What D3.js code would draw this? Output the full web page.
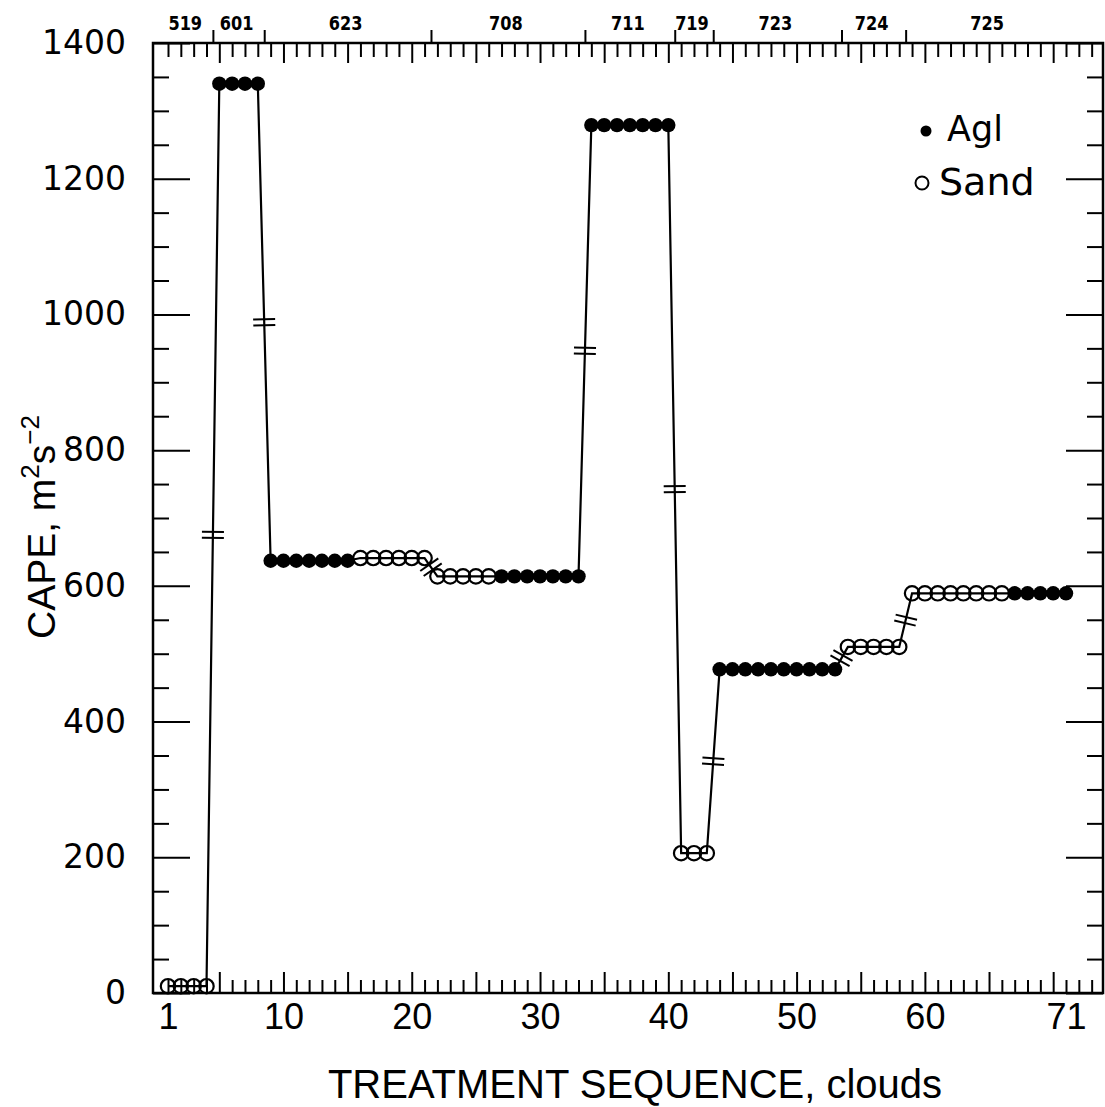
<!DOCTYPE html>
<html>
<head>
<meta charset="utf-8">
<script src="https://cdn.jsdelivr.net/npm/d3@7"></script>
<style>
  html, body { margin: 0; padding: 0; background: #fff; }
  svg { display: block; }
</style>
</head>
<body>
<svg id="chart" width="1105" height="1107"></svg>
<script>
// Treatment runs: consecutive clouds from the same day with the same seeding agent
const runDay    = ["519", "601", "623", "623", "708", "708", "711", "719", "723", "724", "725", "725"];
const runAgent  = ["Sand", "Agl", "Agl", "Sand", "Sand", "Agl", "Agl", "Sand", "Agl", "Sand", "Sand", "Agl"];
const runCape   = [10, 1340, 637, 641, 614, 614, 1279, 206, 477, 510, 589, 589];
const runCount  = [4, 4, 7, 6, 5, 7, 7, 3, 10, 5, 8, 5];

// Axis ticks and labels
const xTickLabels = [1, 10, 20, 30, 40, 50, 60, 71];
const yTickLabels = [0, 200, 400, 600, 800, 1000, 1200, 1400];
const legendNames = ["Agl", "Sand"];

// Expand runs into one record per cloud
const clouds = [];
runCape.forEach((v, i) => {
  for (let j = 0; j < runCount[i]; j++) {
    clouds.push({ seq: clouds.length + 1, day: runDay[i], agent: runAgent[i], cape: v });
  }
});

// Day groups (first / last cloud of each day)
const days = [];
clouds.forEach(c => {
  const last = days[days.length - 1];
  if (!last || last.day !== c.day) days.push({ day: c.day, first: c.seq, last: c.seq });
  else last.last = c.seq;
});

const svg = d3.select("#chart");
const L = 153, R = 1103, T = 43, B = 993;

const x = d3.scaleLinear().domain([1, 71]).range([168, 1066]);
const y = d3.scaleLinear().domain([0, 1400]).range([B, T]);

const ink = "#000";
const sans = "'DejaVu Sans', sans-serif";
const helv = "'Liberation Sans', Arial, sans-serif";

svg.append("rect").attr("width", 1105).attr("height", 1107).attr("fill", "#fff");

const seqTicks = d3.range(1, 74);
const minorY = d3.range(0, 1401, 50).filter(v => v % 200 !== 0);
const majorY = d3.range(0, 1401, 200);

function styleAxis(g) {
  g.select(".domain").remove();
  g.selectAll(".tick line").attr("stroke", ink).attr("stroke-width", 2);
}

// Bottom: inward ticks (every cloud, longer every 5)
svg.append("g").attr("transform", `translate(0,${B})`)
  .call(d3.axisTop(x).tickValues(seqTicks.filter(v => v % 5 !== 0)).tickSize(13).tickFormat(""))
  .call(styleAxis);
svg.append("g").attr("transform", `translate(0,${B})`)
  .call(d3.axisTop(x).tickValues(seqTicks.filter(v => v % 5 === 0)).tickSize(21).tickFormat(""))
  .call(styleAxis);
// Bottom labels
svg.append("g").attr("transform", `translate(0,${B})`)
  .call(d3.axisBottom(x).tickValues(xTickLabels).tickSize(0).tickPadding(9).tickFormat(d3.format("d")))
  .call(g => g.select(".domain").remove())
  .call(g => g.selectAll("text").attr("font-family", helv).attr("font-size", 36).attr("fill", ink)
    .attr("dy", "0.74em"));

// Top: inward ticks
svg.append("g").attr("transform", `translate(0,${T})`)
  .call(d3.axisBottom(x).tickValues(seqTicks.filter(v => v % 5 !== 0)).tickSize(14).tickFormat(""))
  .call(styleAxis);
svg.append("g").attr("transform", `translate(0,${T})`)
  .call(d3.axisBottom(x).tickValues(seqTicks.filter(v => v % 5 === 0)).tickSize(20).tickFormat(""))
  .call(styleAxis);
// Top: outward ticks at day boundaries
const dayBounds = days.slice(1).map(d => d.first - 0.5);
svg.append("g").attr("transform", `translate(0,${T})`)
  .call(d3.axisTop(x).tickValues(dayBounds).tickSize(13).tickFormat(""))
  .call(styleAxis);
// Day labels
svg.append("g").selectAll("text").data(days).join("text")
  .attr("transform", d => `translate(${x((d.first + d.last) / 2) - 2},30) scale(0.85,1)`)
  .attr("text-anchor", "middle")
  .attr("font-family", sans).attr("font-weight", "bold").attr("font-size", 19)
  .attr("fill", ink)
  .text(d => d.day);

// Left: inward ticks
svg.append("g").attr("transform", `translate(${L},0)`)
  .call(d3.axisRight(y).tickValues(minorY).tickSize(16).tickFormat(""))
  .call(styleAxis);
svg.append("g").attr("transform", `translate(${L},0)`)
  .call(d3.axisRight(y).tickValues(majorY).tickSize(37).tickFormat(""))
  .call(styleAxis);
// Left labels
svg.append("g").attr("transform", `translate(${L},0)`)
  .call(d3.axisLeft(y).tickValues(yTickLabels).tickSize(0).tickPadding(27).tickFormat(d3.format("d")))
  .call(g => g.select(".domain").remove())
  .call(g => g.selectAll("text").attr("font-family", sans).attr("font-size", 33).attr("fill", ink));

// Right: inward ticks
svg.append("g").attr("transform", `translate(${R},0)`)
  .call(d3.axisLeft(y).tickValues(minorY).tickSize(16).tickFormat(""))
  .call(styleAxis);
svg.append("g").attr("transform", `translate(${R},0)`)
  .call(d3.axisLeft(y).tickValues(majorY).tickSize(37).tickFormat(""))
  .call(styleAxis);

// Frame
svg.append("rect").attr("x", L).attr("y", T).attr("width", R - L).attr("height", B - T)
  .attr("fill", "none").attr("stroke", ink).attr("stroke-width", 2.5);

// Connecting line
const line = d3.line().x(d => x(d.seq)).y(d => y(d.cape));
svg.append("path").datum(clouds).attr("d", line)
  .attr("fill", "none").attr("stroke", ink).attr("stroke-width", 2.2);

// Break marks on the segments joining different days
const breaks = [];
for (let i = 1; i < clouds.length; i++) {
  if (clouds[i].day !== clouds[i - 1].day) breaks.push([clouds[i - 1], clouds[i]]);
}
const hashG = svg.append("g");
breaks.forEach(([a, b]) => {
  const x0 = x(a.seq), y0 = y(a.cape), x1 = x(b.seq), y1 = y(b.cape);
  const mx = (x0 + x1) / 2, my = (y0 + y1) / 2;
  const len = Math.hypot(x1 - x0, y1 - y0);
  const ux = (x1 - x0) / len, uy = (y1 - y0) / len;   // along the segment
  const px = -uy, py = ux;                             // across the segment
  [-3, 3].forEach(off => {
    const cx = mx + ux * off, cy = my + uy * off;
    hashG.append("line")
      .attr("x1", cx - px * 11).attr("y1", cy - py * 11)
      .attr("x2", cx + px * 11).attr("y2", cy + py * 11)
      .attr("stroke", ink).attr("stroke-width", 2);
  });
});

// Markers
svg.append("g").selectAll("circle").data(clouds).join("circle")
  .attr("cx", d => x(d.seq)).attr("cy", d => y(d.cape))
  .attr("r", 7.2)
  .attr("fill", d => d.agent === "Agl" ? ink : "none")
  .attr("stroke", ink)
  .attr("stroke-width", d => d.agent === "Agl" ? 0 : 2.2);

// Legend
const leg = svg.append("g");
leg.append("circle").attr("cx", 926).attr("cy", 131).attr("r", 5.5).attr("fill", ink);
leg.append("circle").attr("cx", 922).attr("cy", 183).attr("r", 6.5).attr("fill", "none")
  .attr("stroke", ink).attr("stroke-width", 2);
leg.append("text").attr("x", 947).attr("y", 141).text(legendNames[0])
  .attr("font-family", sans).attr("font-size", 35).attr("fill", ink);
leg.append("text").attr("x", 939).attr("y", 195).text(legendNames[1])
  .attr("font-family", sans).attr("font-size", 38).attr("fill", ink);

// Axis titles
svg.append("text").attr("x", 635).attr("y", 1098)
  .attr("text-anchor", "middle")
  .attr("font-family", helv).attr("font-size", 40).attr("fill", ink)
  .text("TREATMENT SEQUENCE, clouds");

const yt = svg.append("text")
  .attr("transform", `translate(55,527) rotate(-90)`)
  .attr("text-anchor", "middle")
  .attr("font-family", helv).attr("font-size", 39).attr("fill", ink);
yt.append("tspan").text("CAPE,  m");
yt.append("tspan").attr("dy", -16).attr("font-size", 26).text("2");
yt.append("tspan").attr("dy", 16).text("s");
yt.append("tspan").attr("dy", -16).attr("font-size", 26).text("\u22122");
</script>
</body>
</html>
